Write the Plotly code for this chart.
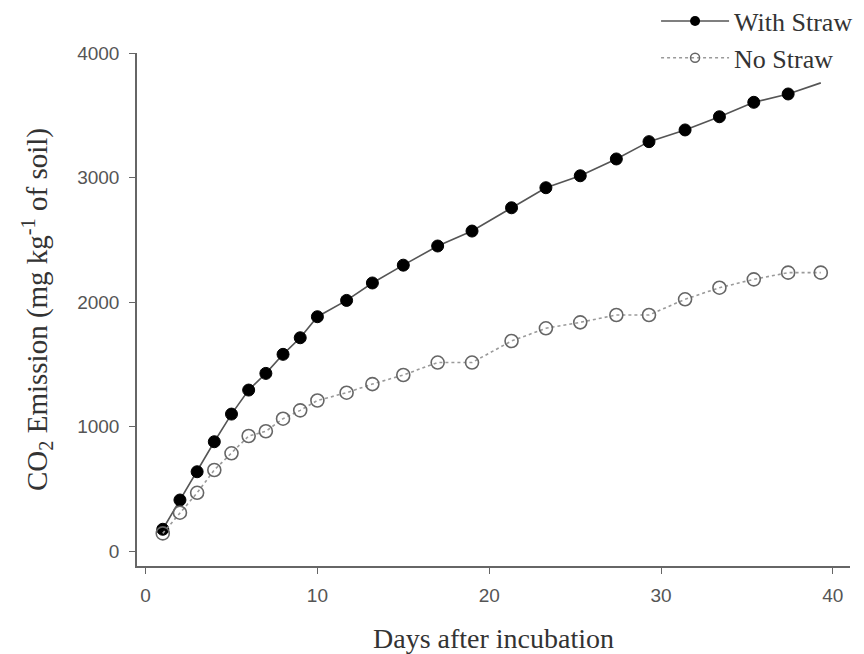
import plotly.graph_objects as go

days = [1, 2, 3, 4, 5, 6, 7, 8, 9, 10, 11.7, 13.2, 15.0, 17.0, 19.0, 21.3, 23.3, 25.3, 27.4, 29.3, 31.4, 33.4, 35.4, 37.4, 39.3]
with_straw = [175, 410, 637, 878, 1100, 1293, 1427, 1580, 1713, 1882, 2013, 2153, 2296, 2450, 2570, 2757, 2918, 3014, 3149, 3288, 3382, 3488, 3604, 3671, 3760]
no_straw = [142, 308, 468, 651, 785, 924, 962, 1063, 1130, 1209, 1272, 1341, 1414, 1514, 1514, 1687, 1789, 1837, 1896, 1896, 2022, 2115, 2182, 2236, 2236]

serif = "Liberation Serif, Times New Roman, serif"
sans = "Liberation Sans, Arial, sans-serif"

ws_line = dict(color="#555555", width=1.6)
ns_line = dict(color="#9a9a9a", width=1.6, dash="dot")

fig = go.Figure()
fig.add_trace(go.Scatter(
    x=days, y=with_straw, name="With Straw", mode="lines+markers", showlegend=False,
    line=ws_line,
    marker=dict(symbol="circle", size=[12] * (len(days) - 1) + [0], color="#000000", opacity=1,
                line=dict(color="#000000", width=1)),
))
fig.add_trace(go.Scatter(
    x=days, y=no_straw, name="No Straw", mode="lines+markers", showlegend=False,
    line=ns_line,
    marker=dict(symbol="circle-open", size=13, color="#666666", opacity=1, line=dict(width=1.6)),
))
# legend entries (smaller symbols as in the reference)
fig.add_trace(go.Scatter(
    x=[None], y=[None], name="With Straw", mode="lines+markers", line=ws_line,
    marker=dict(symbol="circle", size=10, color="#000000"),
))
fig.add_trace(go.Scatter(
    x=[None], y=[None], name="No Straw", mode="lines+markers", line=ns_line,
    marker=dict(symbol="circle-open", size=9, color="#666666", line=dict(width=1.5)),
))

fig.update_layout(
    width=864, height=654,
    paper_bgcolor="white", plot_bgcolor="white",
    margin=dict(l=129, r=22, t=45, b=96, autoexpand=False),
    showlegend=True,
    legend=dict(
        x=0.728, xanchor="left", y=1.108, yanchor="top",
        font=dict(family=serif, size=26, color="#333333"),
        bgcolor="rgba(255,255,255,0)", itemwidth=68, tracegroupgap=0,
    ),
    xaxis=dict(
        range=[-0.5, 41], tickvals=[0, 10, 20, 30, 40],
        showline=True, linecolor="#666666", linewidth=1.5,
        ticks="outside", ticklen=6, tickcolor="#666666", tickwidth=1.2,
        ticklabelstandoff=5,
        showgrid=False, zeroline=False,
        tickfont=dict(family=sans, size=19, color="#555555"),
        title=dict(text="Days after incubation", font=dict(family=serif, size=28, color="#333333"), standoff=24),
    ),
    yaxis=dict(
        range=[-120, 4000], tickvals=[0, 1000, 2000, 3000, 4000],
        showline=True, linecolor="#666666", linewidth=1.5,
        ticks="outside", ticklen=6, tickcolor="#666666", tickwidth=1.2,
        ticklabelstandoff=6,
        showgrid=False, zeroline=False,
        tickfont=dict(family=sans, size=19, color="#555555"),
        title=dict(text="CO<sub>2</sub> Emission (mg kg<sup>-1</sup> of soil)",
                   font=dict(family=serif, size=29, color="#333333"), standoff=21),
    ),
)

fig.write_html("out.html")
